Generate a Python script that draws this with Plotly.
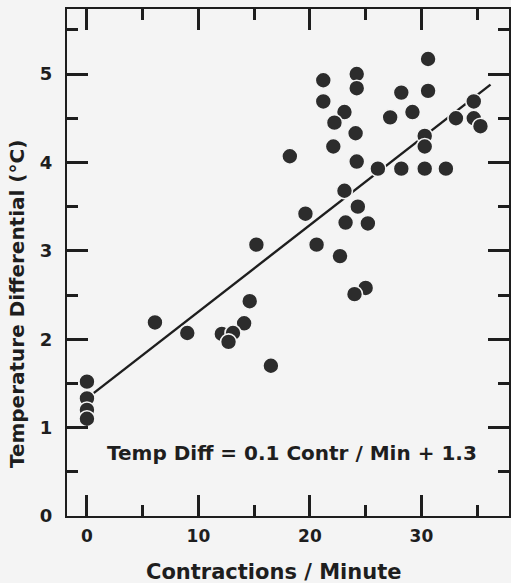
import plotly.graph_objects as go

# Data
contr_per_min = [30.6, 21.2, 24.2, 24.2, 28.2, 30.6, 21.2, 34.7, 23.1, 29.2,
                 27.2, 33.1, 34.7, 35.3, 22.2, 24.1, 30.3, 30.3, 22.1, 18.2,
                 24.2, 26.1, 28.2, 30.3, 32.2, 23.1, 19.6, 24.3, 23.2, 25.2,
                 15.2, 20.6, 22.7, 25.0, 24.0, 6.1, 9.0, 14.6, 14.1, 12.1,
                 13.1, 12.7, 16.5, 0.0, 0.0, 0.0, 0.0]
temp_diff = [5.17, 4.93, 5.00, 4.84, 4.79, 4.81, 4.69, 4.69, 4.57, 4.57,
             4.51, 4.50, 4.50, 4.41, 4.45, 4.33, 4.30, 4.18, 4.18, 4.07,
             4.01, 3.93, 3.93, 3.93, 3.93, 3.68, 3.42, 3.50, 3.32, 3.31,
             3.07, 3.07, 2.94, 2.58, 2.51, 2.19, 2.07, 2.43, 2.18, 2.06,
             2.07, 1.97, 1.70, 1.52, 1.33, 1.20, 1.10]
fit_x = [0.6, 36.2]
fit_y = [1.39, 4.88]
x_ticks = [0, 10, 20, 30]
y_ticks = [0, 1, 2, 3, 4, 5]

FONT = "DejaVu Sans"
INK = "#1e1e1e"
BG = "#f4f4f4"

fig = go.Figure()
fig.add_trace(go.Scatter(x=fit_x, y=fit_y, mode="lines",
                         line=dict(color=INK, width=2.4), hoverinfo="skip"))
fig.add_trace(go.Scatter(x=contr_per_min, y=temp_diff, mode="markers",
                         marker=dict(size=16, color="#2c2c2c",
                                     line=dict(color=BG, width=1.6))))

axis_common = dict(showgrid=False, zeroline=False, showline=True,
                   linecolor=INK, linewidth=2, mirror="allticks",
                   ticks="inside", tickcolor=INK, tickwidth=2.5, ticklen=21)

fig.update_xaxes(range=[-1.79, 37.86], tickvals=x_ticks,
                 ticklabelstandoff=4,
                 tickfont=dict(family=FONT, size=17, color=INK, weight="bold"),
                 minor=dict(tickvals=[5, 15, 25, 35], ticklen=11, tickwidth=2.5,
                            tickcolor=INK, ticks="inside"),
                 **axis_common)
fig.update_yaxes(range=[0, 5.736], tickvals=y_ticks,
                 ticklabelstandoff=9,
                 tickfont=dict(family=FONT, size=18, color=INK, weight="bold"),
                 minor=dict(tickvals=[0.5, 1.5, 2.5, 3.5, 4.5, 5.5], ticklen=11,
                            tickwidth=2.5, tickcolor=INK, ticks="inside"),
                 **axis_common)

fig.add_annotation(text="Temp Diff = 0.1 Contr / Min + 1.3", x=18.4, y=0.71,
                   xref="x", yref="y", showarrow=False,
                   font=dict(family=FONT, size=20, color=INK, weight="bold"))
fig.add_annotation(text="Contractions / Minute", x=16.8, y=-0.11,
                   xref="x", yref="paper", showarrow=False, yanchor="middle",
                   font=dict(family=FONT, size=21, color=INK, weight="bold"))
fig.add_annotation(text="Temperature Differential (°C)", x=-50 / 444, y=2.4,
                   xref="paper", yref="y", showarrow=False, textangle=-90,
                   xanchor="center", yanchor="middle",
                   font=dict(family=FONT, size=20, color=INK, weight="bold"))

fig.update_layout(width=511, height=583, showlegend=False,
                  margin=dict(l=67, r=0, t=9, b=67),
                  paper_bgcolor=BG, plot_bgcolor=BG)

fig.write_html("out.html")
